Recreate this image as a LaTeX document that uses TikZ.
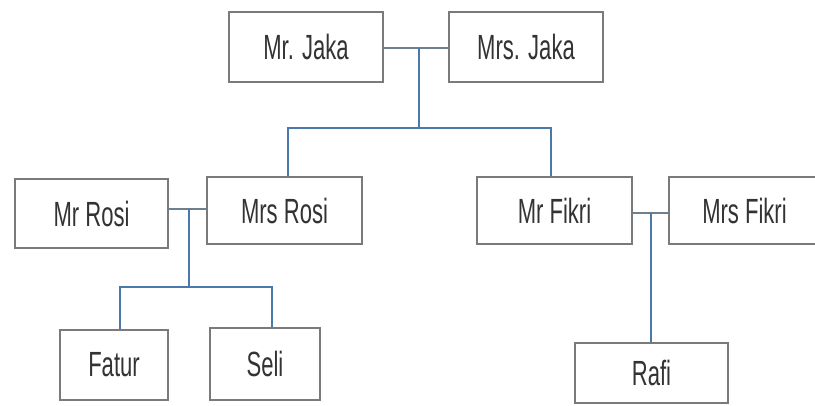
\documentclass[tikz,border=0pt]{standalone}
\usepackage{fontspec}
\newfontfamily\lab[FakeStretch=0.63]{Liberation Sans}
\definecolor{boxline}{HTML}{7A7A7A}
\definecolor{txt}{HTML}{333333}
\definecolor{conn}{HTML}{4A78A8}
\definecolor{wed}{HTML}{6E7F90}
\begin{document}
\begin{tikzpicture}[x=1pt,y=-1pt,
  person/.style={draw=boxline,line width=1.3pt,fill=white,text=txt,
    font=\lab\fontsize{35}{38}\selectfont,inner sep=0pt,anchor=center},
  link/.style={draw=conn,line width=1.4pt},
  wedlink/.style={draw=wed,line width=2pt}]
\useasboundingbox (0,0) rectangle (815,406);
\clip (0,0) rectangle (815,406);
\node[person,minimum width=154pt,minimum height=70pt] (mrjaka) at (306,47) {Mr. Jaka};
\node[person,minimum width=154pt,minimum height=70pt] (mrsjaka) at (526,47) {Mrs. Jaka};
\node[person,minimum width=153pt,minimum height=69pt] (mrrosi) at (91.5,213.5) {Mr Rosi};
\node[person,minimum width=155pt,minimum height=67pt] (mrsrosi) at (284.5,210.5) {Mrs Rosi};
\node[person,minimum width=108pt,minimum height=70pt] (fatur) at (114,365) {Fatur};
\node[person,minimum width=110pt,minimum height=72pt] (seli) at (265,364) {Seli};
\node[person,minimum width=155pt,minimum height=67pt] (mrfikri) at (554.5,210.5) {Mr Fikri};
\node[person,minimum width=151pt,minimum height=67pt] (mrsfikri) at (744.5,210.5) {Mrs Fikri};
\node[person,minimum width=153pt,minimum height=60pt] (rafi) at (651.5,373) {Rafi};
% Jaka family
\coordinate (jm) at (419,48);
\coordinate (jb) at (419,128);
\draw[wedlink] (mrjaka.east |- jm) -- (mrsjaka.west |- jm);
\draw[link] (jm) -- (jb);
\draw[link] ([xshift=3.5pt]mrsrosi.north) |- (jb) -| ([xshift=-3.5pt]mrfikri.north);
% Rosi family
\coordinate (rm) at (189,209);
\coordinate (rb) at (189,287);
\draw[wedlink] (mrrosi.east |- rm) -- (mrsrosi.west |- rm);
\draw[link] (rm) -- (rb);
\draw[link] ([xshift=6pt]fatur.north) |- (rb) -| ([xshift=7pt]seli.north);
% Fikri family
\coordinate (fm) at (651,213);
\draw[wedlink] (mrfikri.east |- fm) -- (mrsfikri.west |- fm);
\draw[link] (fm) -- (fm |- rafi.north);
\end{tikzpicture}
\end{document}
